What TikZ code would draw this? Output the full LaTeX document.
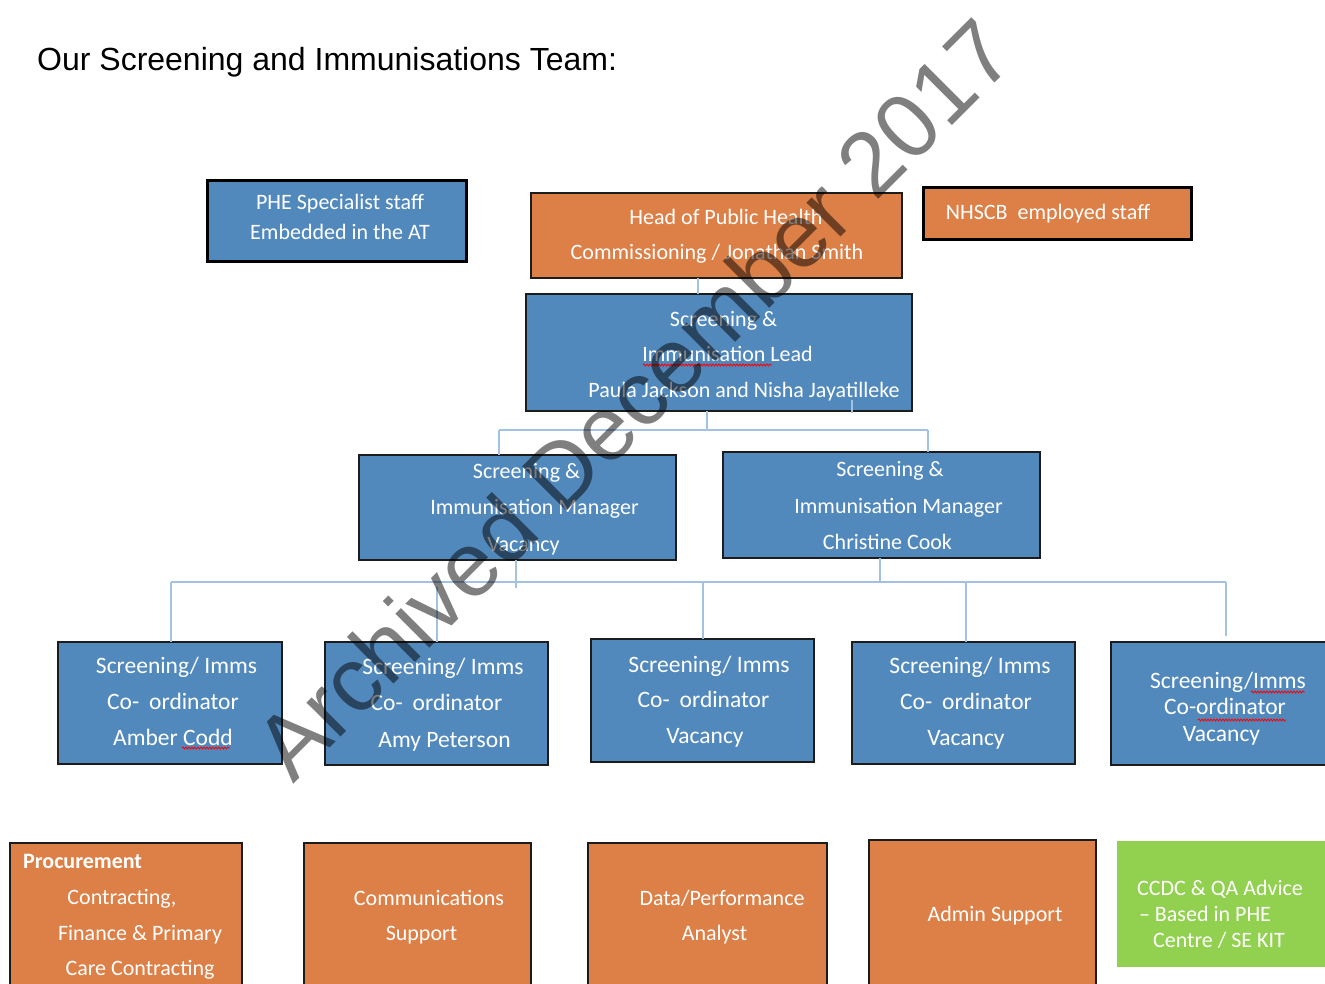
\documentclass[tikz,border=0pt]{standalone}
\usepackage{fontspec}
\setmainfont{Carlito}
\newfontfamily\arialf{Liberation Sans}
\usetikzlibrary{calc,decorations.pathmorphing}
\definecolor{boxblue}{HTML}{5289BD}
\definecolor{boxorange}{HTML}{DD8047}
\definecolor{boxgreen}{HTML}{92D050}
\definecolor{connc}{HTML}{A3C2E2}
\definecolor{edgec}{HTML}{1C1C1C}
\begin{document}
\begin{tikzpicture}[x=1pt,y=-1pt,
  basebox/.style={inner sep=0pt, outer sep=0pt, line width=1.5pt, draw=edgec},
  bluebox/.style={basebox, fill=boxblue},
  orangebox/.style={basebox, fill=boxorange},
  heavy/.style={line width=3pt, draw=black},
  greenbox/.style={inner sep=0pt, outer sep=0pt, fill=boxgreen, draw=none},
  btxt/.style={text=white, align=center, inner sep=0pt, font=\fontsize{22}{#1}\selectfont},
  ctxt/.style={text=white, align=center, inner sep=0pt, font=\fontsize{23.5}{#1}\selectfont},
  conn/.style={draw=connc, line width=1.5pt},
  squig/.style={draw=red, line width=0.8pt, decorate, decoration={snake, amplitude=1pt, segment length=3pt}}
]
\clip (0,0) rectangle (1325,983);
\fill[white] (0,0) rectangle (1325,983);

% title
\node[anchor=base west, inner sep=0pt, font=\arialf\fontsize{32}{38}\selectfont] (title) at (37,70) {Our Screening and Immunisations Team:};

% boxes
\node[bluebox, heavy, minimum width=259pt, minimum height=81pt] (phe) at (336.5,220.5) {};
\node[orangebox, minimum width=371pt, minimum height=85pt] (head) at (716.5,235.5) {};
\node[orangebox, heavy, minimum width=268pt, minimum height=52pt] (nhs) at (1057,213) {};
\node[bluebox, minimum width=386pt, minimum height=117pt] (lead) at (719,352.5) {};
\node[bluebox, minimum width=317pt, minimum height=105pt] (m1) at (517.5,507.5) {};
\node[bluebox, minimum width=317pt, minimum height=106pt] (m2) at (881.5,505) {};
\node[bluebox, minimum width=224pt, minimum height=122pt] (c1) at (170,703) {};
\node[bluebox, minimum width=223pt, minimum height=123pt] (c2) at (436.5,703.5) {};
\node[bluebox, minimum width=223pt, minimum height=123pt] (c3) at (702.5,700.5) {};
\node[bluebox, minimum width=223pt, minimum height=122pt] (c4) at (963.5,703) {};
\node[bluebox, minimum width=224pt, minimum height=123pt] (c5) at (1223,703.5) {};
\node[orangebox, minimum width=232pt, minimum height=157pt] (proc) at (126,921.5) {};
\node[orangebox, minimum width=227pt, minimum height=157pt] (comm) at (417.5,921.5) {};
\node[orangebox, minimum width=239pt, minimum height=157pt] (data) at (707.5,921.5) {};
\node[orangebox, minimum width=227pt, minimum height=160pt] (admin) at (982.5,920) {};
\node[greenbox, minimum width=213pt, minimum height=126pt] (green) at (1223.5,904) {};

% connectors
\coordinate (hx) at (698,286);
\draw[conn] (head.south -| hx) -- (lead.north -| hx);
\coordinate (busA) at (707,430);
\coordinate (ma) at (499,430);
\coordinate (mb) at (928,430);
\draw[conn] (lead.south -| busA) -- (busA);
\draw[conn] (ma) -- (mb);
\draw[conn] (ma) -- (m1.north -| ma);
\draw[conn] (mb) -- (m2.north -| mb);
\coordinate (tick) at (852,400);
\draw[conn] (tick) -- (lead.south -| tick) -- ++(0,2);
\coordinate (b1) at (516,588);
\coordinate (b2) at (880,582);
\draw[conn] (m1.south -| b1) -- (b1);
\draw[conn] (m2.south -| b2) -- (b2);
\coordinate (cL) at (171,582);
\coordinate (cR) at (1226,582);
\coordinate (k2) at (437,587);
\coordinate (k3) at (703,582);
\coordinate (k4) at (966,582);
\coordinate (k5) at (1226,636);
\draw[conn] (cL) -- (cR);
\draw[conn] (cL) -- (c1.north -| cL);
\draw[conn] (k2) -- (c2.north -| k2);
\draw[conn] (k3) -- (c3.north -| k3);
\draw[conn] (k4) -- (c4.north -| k4);
\draw[conn] (cR) -- (k5);

% texts
\node[btxt=30] (phe-t) at (340,217) {PHE Specialist staff\\Embedded in the AT};
\node[btxt=35] (head-t) at (717,236) {\hspace*{18pt}Head of Public Health\\Commissioning / Jonathan Smith};
\node[btxt=26] (nhs-t) at (1048,214) {NHSCB\ \ employed staff};
\node[btxt=35.5] (lead-t) at (723.5,356) {Screening \&\\\hspace*{8pt}Immunisation Lead\\\hspace*{41pt}Paula Jackson and Nisha Jayatilleke};
\node[btxt=36.5] (m1-t) at (523.5,509) {\hspace*{6pt}Screening \&\\\hspace*{22pt}Immunisation Manager\\Vacancy};
\node[btxt=36.5] (m2-t) at (887.5,506) {\hspace*{5pt}Screening \&\\\hspace*{22pt}Immunisation Manager\\Christine Cook};
\node[ctxt=36] (c1-t) at (173,701) {\hspace*{7pt}Screening/ Imms\\Co-\hspace{10pt}ordinator\\Amber Codd};
\node[ctxt=36.5] (c2-t) at (443,704.5) {Screening/ Imms\\\hspace*{-13pt}Co-\hspace{10pt}ordinator\\\hspace*{3pt}Amy Peterson};
\node[ctxt=35.5] (c3-t) at (705,701.5) {\hspace*{8pt}Screening/ Imms\\\hspace*{-3pt}Co-\hspace{10pt}ordinator\\Vacancy};
\node[ctxt=36] (c4-t) at (966,703) {\hspace*{8pt}Screening/ Imms\\Co-\hspace{10pt}ordinator\\Vacancy};
\node[ctxt=26.5] (c5-t) at (1224,708.5) {\hspace*{8pt}Screening/Imms\\\hspace*{2pt}Co-ordinator\\\hspace*{-5pt}Vacancy};
\node[anchor=base west, inner sep=0pt, text=white, font=\bfseries\fontsize{22}{26}\selectfont] (proc-h) at (23,868) {Procurement};
\node[btxt=35.5] (proc-t) at (140,934.5) {\hspace*{-36pt}Contracting,\\Finance \& Primary\\Care Contracting};
\node[btxt=35.5] (comm-t) at (421.5,917) {\hspace*{15pt}Communications\\Support};
\node[btxt=35.5] (data-t) at (714.5,917) {\hspace*{15pt}Data/Performance\\Analyst};
\node[btxt=26] (admin-t) at (995,916) {Admin Support};
\node[btxt=26] (green-t) at (1205,914) {\hspace*{30pt}CCDC \& QA Advice\\– Based in PHE\\\hspace*{28pt}Centre / SE KIT};

% spell-check underlines
\draw[squig] (643,365) -- (772,365);
\draw[squig] (182,748) -- (230,748);
\draw[squig] (1251,692) -- (1305,692);
\draw[squig] (1198,720) -- (1286,720);

% watermark
\node[anchor=base west, rotate=45, inner sep=0pt, text=black, text opacity=0.5, font=\arialf\fontsize{91}{100}\selectfont] (wm) at (293,785) {Archived December 2017};
\end{tikzpicture}
\end{document}
